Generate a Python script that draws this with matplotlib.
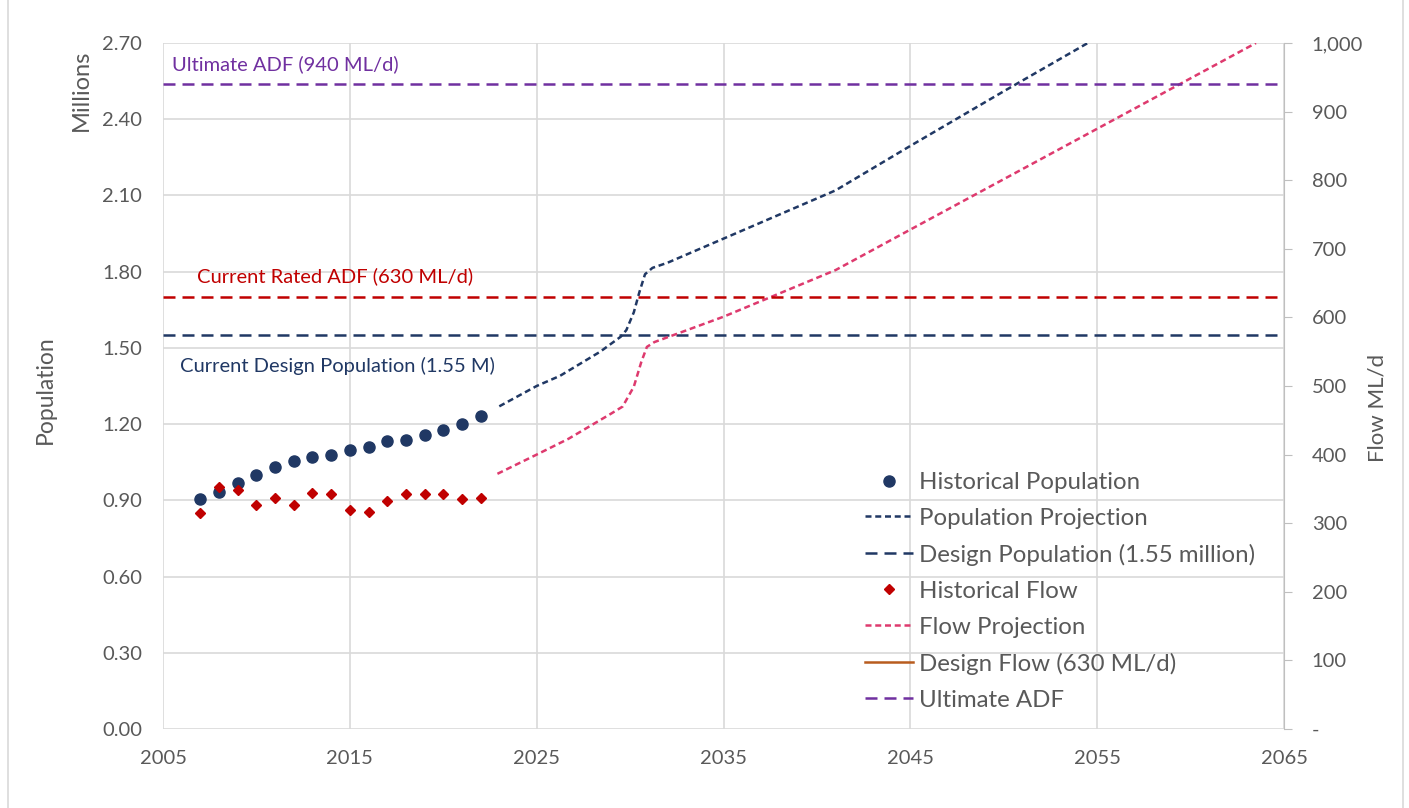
import matplotlib
matplotlib.use("Agg")
import matplotlib.pyplot as plt
from matplotlib.lines import Line2D

plt.rcParams['font.family'] = ['Lato', 'DejaVu Sans']

# historical data
hist_years = [2007, 2008, 2009, 2010, 2011, 2012, 2013, 2014, 2015, 2016,
              2017, 2018, 2019, 2020, 2021, 2022]
hist_pop = [0.904, 0.934, 0.968, 1.000, 1.030, 1.055, 1.069, 1.077, 1.097, 1.111,
            1.132, 1.139, 1.157, 1.178, 1.202, 1.232]          # millions
hist_flow = [315, 353, 349, 326, 337, 326, 344, 343, 319, 317,
             333, 343, 342, 343, 335, 337]                      # ML/d

# projections
proj_pop_years = [2023, 2025, 2026.25, 2028.4, 2029.5, 2029.8, 2030.2, 2030.5,
                  2030.8, 2031.2, 2032, 2035, 2041, 2045, 2050, 2054.5]
proj_pop = [1.27, 1.35, 1.39, 1.485, 1.544, 1.57, 1.64, 1.72,
            1.79, 1.815, 1.835, 1.93, 2.12, 2.295, 2.51, 2.70]
proj_flow_years = [2022.9, 2025, 2026.7, 2029, 2029.6, 2030.2, 2030.6, 2030.9,
                   2031.3, 2032, 2035, 2041, 2045, 2055, 2063.5]
proj_flow = [372, 400, 423, 460, 470, 499, 535, 557,
             564, 571, 601, 669, 728, 875, 1000]

# reference levels
design_pop = 1.55
rated_adf = 630
ultimate_adf = 940
x_span = [2005, 2065]

navy = '#203864'
red = '#C00000'
pink = '#DE3A6E'
purple = '#7030A0'
brown = '#B85C1E'
grey_txt = '#595959'
grid_c = '#D9D9D9'

fig = plt.figure(figsize=(14.09, 8.08), dpi=100)
ax = fig.add_axes([163/1409, 1-729/808, (1284-163)/1409, (729-43)/808])
ax2 = ax.twinx()

long_dash = (4.8, 2.8)
short_dash = (2.4, 1.5)

# population axis
h1, = ax.plot(hist_years, hist_pop, 'o', color=navy, ms=8, lw=0,
              label='Historical Population')
h2, = ax.plot(proj_pop_years, proj_pop, color=navy, lw=1.8, dashes=short_dash,
              label='Population Projection')
h3, = ax.plot(x_span, [design_pop, design_pop], color=navy, lw=1.8,
              dashes=long_dash, label='Design Population (1.55 million)')

# flow axis
h4, = ax2.plot(hist_years, hist_flow, 'D', color=red, ms=5.5, lw=0,
               label='Historical Flow')
h5, = ax2.plot(proj_flow_years, proj_flow, color=pink, lw=1.8, dashes=short_dash,
               label='Flow Projection')
ax2.plot(x_span, [rated_adf, rated_adf], color=red, lw=1.8, dashes=long_dash)
h6, = ax2.plot([], [], color=brown, lw=1.8, label='Design Flow (630 ML/d)')
h7, = ax2.plot(x_span, [ultimate_adf, ultimate_adf], color=purple, lw=1.8,
               dashes=long_dash, label='Ultimate ADF')

ax.set_xlim(2005, 2065)
ax.set_ylim(0, 2.70)
ax2.set_ylim(0, 1000)
ax.set_xticks(range(2005, 2066, 10))
ax.set_yticks([i * 0.3 for i in range(10)])
ax.set_yticklabels([f'{i * 0.3:.2f}' for i in range(10)])
ax2.set_yticks(range(0, 1001, 100))
ax2.set_yticklabels(['-'] + [f'{v:,}' for v in range(100, 1001, 100)])

ax.grid(True, color=grid_c, lw=1.2)
ax.set_axisbelow(True)
for a in (ax, ax2):
    for s in a.spines.values():
        s.set_visible(False)
ax2.spines['right'].set_visible(True)
ax2.spines['right'].set_color('#BFBFBF')
ax.tick_params(axis='y', length=0, colors=grey_txt, labelsize=14.5, pad=15)
ax.tick_params(axis='x', length=0, colors=grey_txt, labelsize=14.5, pad=15)
ax2.tick_params(axis='y', length=6, color='#BFBFBF', labelcolor=grey_txt,
                labelsize=14.5, pad=14)

# annotations
ax2.text(2005.5, 969, 'Ultimate ADF (940 ML/d)', color=purple, fontsize=14.5,
         va='center', ha='left')
ax2.text(2006.8, 660, 'Current Rated ADF (630 ML/d)', color=red, fontsize=14.5,
         va='center', ha='left')
ax.text(2005.9, 1.43, 'Current Design Population (1.55 M)', color=navy,
        fontsize=14.5, va='center', ha='left')

fig.text(81/1409, 1-90/808, 'Millions', rotation=90, color=grey_txt,
         fontsize=17, ha='center', va='center')
fig.text(45/1409, 1-390/808, 'Population', rotation=90, color=grey_txt,
         fontsize=16.5, ha='center', va='center')
fig.text(1378/1409, 1-408/808, 'Flow ML/d', rotation=90, color=grey_txt,
         fontsize=16, ha='center', va='center')

fig.legend(handles=[h1, h2, h3, h4, h5, h6, h7], loc='upper left',
           bbox_to_anchor=(865/1409, 1-472/808), frameon=False,
           fontsize=17.3, handlelength=2.0, handletextpad=0.25,
           labelspacing=0.62, labelcolor=grey_txt, borderaxespad=0,
           borderpad=0)

# outer chart border
fig.add_artist(Line2D([8/1409, 8/1409], [0, 1], color=grid_c, lw=1.2,
                      transform=fig.transFigure))
fig.add_artist(Line2D([1403/1409, 1403/1409], [0, 1], color=grid_c, lw=1.2,
                      transform=fig.transFigure))

fig.savefig('out.png', dpi=100)
